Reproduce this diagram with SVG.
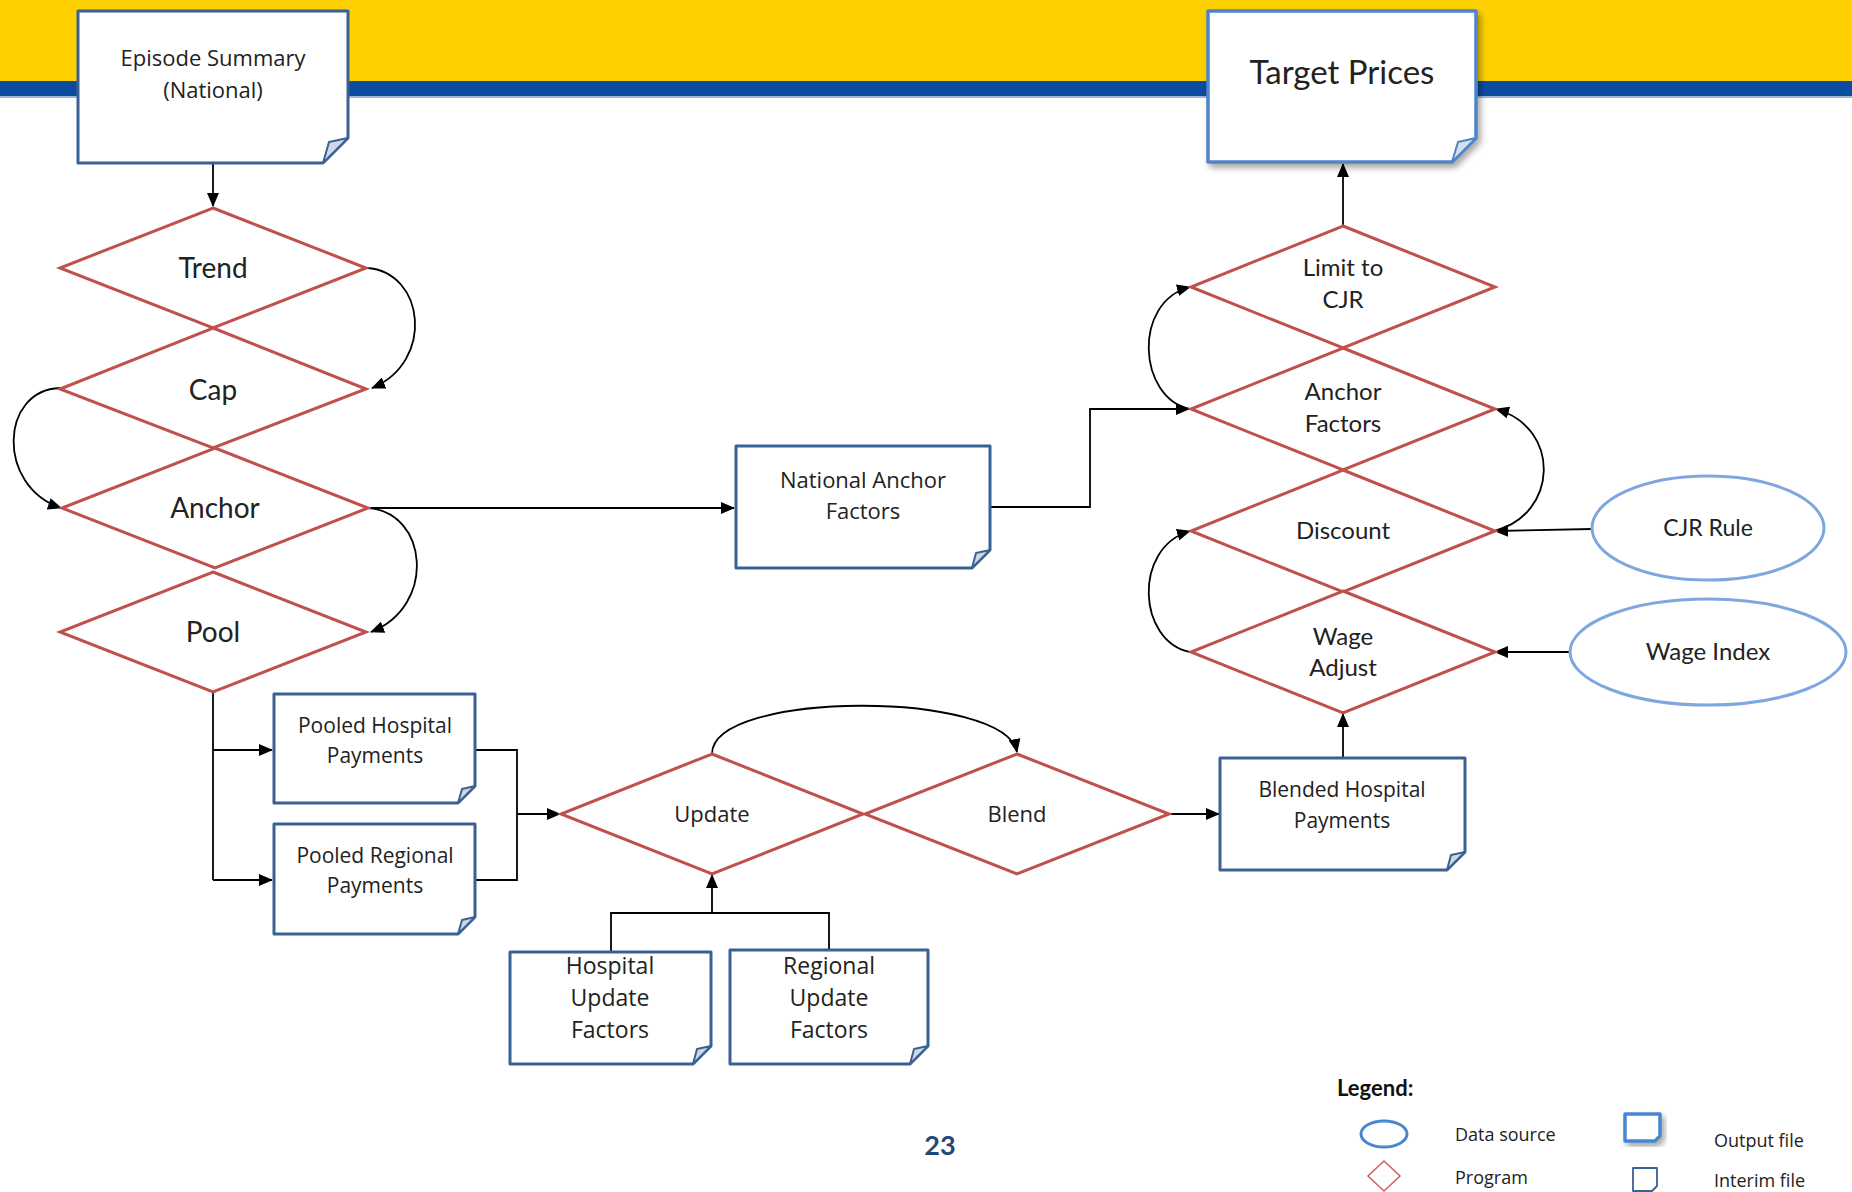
<svg xmlns="http://www.w3.org/2000/svg" width="1852" height="1192" viewBox="0 0 1852 1192">
<defs>
<style>
.dia{fill:#fff;stroke:#C0504D;stroke-width:3}
.box{fill:#fff;stroke:#3B6194;stroke-width:3;stroke-linejoin:round}
.out{fill:#fff;stroke:#4F84C9;stroke-width:3.5;stroke-linejoin:round}
.fold{fill:#CED7E3;stroke:#3B6194;stroke-width:2;stroke-linejoin:round}
.fold2{fill:#D6E0EE;stroke:#4F84C9;stroke-width:2;stroke-linejoin:round}
.ell{fill:#fff;stroke:#7EA7E0;stroke-width:3}
.con{fill:none;stroke:#000;stroke-width:1.8}
.arr{marker-end:url(#ah)}
.t1{font-family:"Open Sans","Noto Sans",sans-serif;fill:#222;text-anchor:middle}
.t2{font-family:Lato,"Liberation Sans",sans-serif;fill:#222;text-anchor:middle}
.ts{text-anchor:start}
</style>
<marker id="ah" markerUnits="userSpaceOnUse" markerWidth="14" markerHeight="12" refX="13" refY="6" orient="auto">
<path d="M0,0 L14,6 L0,12 Z" fill="#000"/>
</marker>
<filter id="sh" x="-10%" y="-10%" width="130%" height="130%">
<feDropShadow dx="3" dy="4" stdDeviation="3" flood-color="#000" flood-opacity="0.35"/>
</filter>
</defs>

<g id="banner">
<rect x="0" y="0" width="1852" height="81" fill="#FFD000"/>
<rect x="0" y="81" width="1852" height="15" fill="#0B4C9F"/>
<rect x="0" y="96" width="1852" height="2" fill="#9DB8DE"/>
</g>

<g id="connectors">
<path class="con arr" d="M213,163 V206"/>
<path class="con arr" d="M367,268 C425,272 435,362 372,388"/>
<path class="con arr" d="M60,388 C0,390 -4,486 61,508"/>
<path class="con arr" d="M368,508 C428,512 437,606 371,632"/>
<path class="con arr" d="M368,508 H734"/>
<path class="con arr" d="M990,507 H1090 V409 H1189"/>
<path class="con arr" d="M1190,409 C1138,398 1132,302 1190,287"/>
<path class="con arr" d="M1494,531 C1558,515 1562,428 1496,409"/>
<path class="con arr" d="M1190,652 C1138,642 1132,548 1190,531"/>
<path class="con arr" d="M1592,529 L1495,531"/>
<path class="con arr" d="M1570,652 H1495"/>
<path class="con arr" d="M1343,226 V164"/>
<path class="con arr" d="M1343,758 V714"/>
<path class="con" d="M213,692 V880"/>
<path class="con arr" d="M213,750 H272"/>
<path class="con arr" d="M213,880 H272"/>
<path class="con" d="M475,750 H517 V880 H475"/>
<path class="con arr" d="M517,814 H560"/>
<path class="con" d="M611,952 V913 H829 V950"/>
<path class="con arr" d="M712,913 V875"/>
<path class="con arr" d="M712,754 C712,690 1005,690 1017,752"/>
<path class="con arr" d="M1169,814 H1219"/>
</g>

<g id="episode-summary">
<path class="box" d="M78,11 H348 V138 L323,163 H78 Z"/>
<path class="fold" d="M348,138 L329,142 L323,163 Z"/>
<text class="t1" x="213" y="66" font-size="22">Episode Summary</text>
<text class="t1" x="213" y="98" font-size="22">(National)</text>
</g>

<g id="target-prices">
<path class="out" filter="url(#sh)" d="M1208,11 H1476 V138 L1452,162 H1208 Z"/>
<path class="fold2" d="M1476,138 L1458,142 L1452,162 Z"/>
<text class="t2" x="1342" y="84" font-size="33">Target Prices</text>
</g>

<g id="trend">
<polygon class="dia" points="213,208 366,268 213,328 60,268"/>
<text class="t2" x="213" y="278" font-size="28">Trend</text>
</g>
<g id="cap">
<polygon class="dia" points="213,328 366,389 213,448 60,389"/>
<text class="t2" x="213" y="400" font-size="28">Cap</text>
</g>
<g id="anchor">
<polygon class="dia" points="215,448 368,508 215,568 62,508"/>
<text class="t2" x="215" y="518" font-size="28">Anchor</text>
</g>
<g id="pool">
<polygon class="dia" points="213,572 366,632 213,692 60,632"/>
<text class="t2" x="213" y="642" font-size="28">Pool</text>
</g>

<g id="national-anchor-factors">
<path class="box" d="M736,446 H990 V550 L972,568 H736 Z"/>
<path class="fold" d="M990,550 L976,553 L972,568 Z"/>
<text class="t1" x="863" y="488" font-size="22">National Anchor</text>
<text class="t1" x="863" y="519" font-size="22">Factors</text>
</g>

<g id="limit-to-cjr">
<polygon class="dia" points="1343,226 1495,287 1343,348 1191,287"/>
<text class="t2" x="1343" y="276" font-size="24">Limit to</text>
<text class="t2" x="1343" y="308" font-size="24">CJR</text>
</g>
<g id="anchor-factors">
<polygon class="dia" points="1343,348 1495,409 1343,470 1191,409"/>
<text class="t2" x="1343" y="400" font-size="24">Anchor</text>
<text class="t2" x="1343" y="432" font-size="24">Factors</text>
</g>
<g id="discount">
<polygon class="dia" points="1343,470 1495,531 1343,592 1191,531"/>
<text class="t2" x="1343" y="539" font-size="24">Discount</text>
</g>
<g id="wage-adjust">
<polygon class="dia" points="1343,591 1495,652 1343,713 1191,652"/>
<text class="t2" x="1343" y="645" font-size="24">Wage</text>
<text class="t2" x="1343" y="676" font-size="24">Adjust</text>
</g>

<g id="cjr-rule">
<ellipse class="ell" cx="1708" cy="528" rx="116" ry="52"/>
<text class="t2" x="1708" y="536" font-size="23">CJR Rule</text>
</g>
<g id="wage-index">
<ellipse class="ell" cx="1708" cy="652" rx="138" ry="53"/>
<text class="t2" x="1708" y="660" font-size="24">Wage Index</text>
</g>

<g id="pooled-hospital-payments">
<path class="box" d="M274,694 H475 V786 L458,803 H274 Z"/>
<path class="fold" d="M475,786 L462,789 L458,803 Z"/>
<text class="t1" x="375" y="733" font-size="21">Pooled Hospital</text>
<text class="t1" x="375" y="763" font-size="21">Payments</text>
</g>
<g id="pooled-regional-payments">
<path class="box" d="M274,824 H475 V917 L458,934 H274 Z"/>
<path class="fold" d="M475,917 L462,920 L458,934 Z"/>
<text class="t1" x="375" y="863" font-size="21">Pooled Regional</text>
<text class="t1" x="375" y="893" font-size="21">Payments</text>
</g>

<g id="update">
<polygon class="dia" points="712,754 863,814 712,874 561,814"/>
<text class="t1" x="712" y="822" font-size="22">Update</text>
</g>
<g id="blend">
<polygon class="dia" points="1017,754 1169,814 1017,874 865,814"/>
<text class="t1" x="1017" y="822" font-size="22">Blend</text>
</g>

<g id="blended-hospital-payments">
<path class="box" d="M1220,758 H1465 V852 L1447,870 H1220 Z"/>
<path class="fold" d="M1465,852 L1451,855 L1447,870 Z"/>
<text class="t1" x="1342" y="797" font-size="21">Blended Hospital</text>
<text class="t1" x="1342" y="828" font-size="21">Payments</text>
</g>

<g id="hospital-update-factors">
<path class="box" d="M510,952 H711 V1046 L693,1064 H510 Z"/>
<path class="fold" d="M711,1046 L697,1049 L693,1064 Z"/>
<text class="t1" x="610" y="974" font-size="23">Hospital</text>
<text class="t1" x="610" y="1006" font-size="23">Update</text>
<text class="t1" x="610" y="1038" font-size="23">Factors</text>
</g>
<g id="regional-update-factors">
<path class="box" d="M730,950 H928 V1046 L910,1064 H730 Z"/>
<path class="fold" d="M928,1046 L914,1049 L910,1064 Z"/>
<text class="t1" x="829" y="974" font-size="23">Regional</text>
<text class="t1" x="829" y="1006" font-size="23">Update</text>
<text class="t1" x="829" y="1038" font-size="23">Factors</text>
</g>

<g id="page-number">
<text x="940" y="1155" font-family="Lato,'Liberation Sans',sans-serif" font-weight="bold" font-size="27" fill="#1F497D" text-anchor="middle">23</text>
</g>

<g id="legend">
<text x="1337" y="1096" font-family="Lato,'Liberation Sans',sans-serif" font-weight="bold" font-size="22" fill="#111">Legend:</text>
<ellipse cx="1384" cy="1134" rx="23" ry="13" fill="#fff" stroke="#4A86D0" stroke-width="3"/>
<polygon points="1384,1161 1400,1176 1384,1191 1368,1176" fill="#fff" stroke="#D0605D" stroke-width="1.5"/>
<text class="t1 ts" x="1455" y="1141" font-size="18">Data source</text>
<text class="t1 ts" x="1455" y="1184" font-size="18">Program</text>
<path d="M1625,1114 H1660 V1136 L1655,1141 H1625 Z" fill="#fff" stroke="#4A86D0" stroke-width="3.5" stroke-linejoin="round" filter="url(#sh)"/>
<path d="M1633,1168 H1657 V1186 L1652,1191 H1633 Z" fill="#fff" stroke="#3B6194" stroke-width="1.8" stroke-linejoin="round"/>
<text class="t1 ts" x="1714" y="1147" font-size="18">Output file</text>
<text class="t1 ts" x="1714" y="1187" font-size="18">Interim file</text>
</g>
</svg>
